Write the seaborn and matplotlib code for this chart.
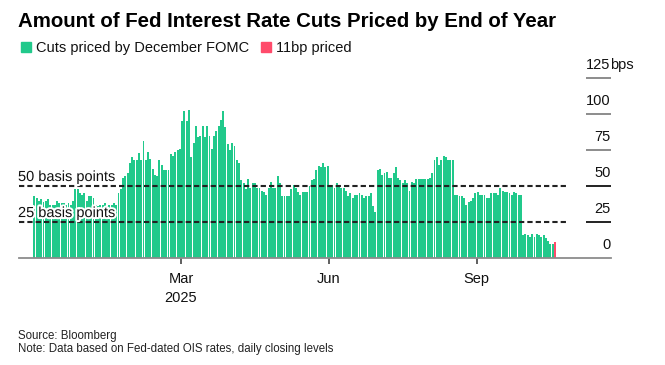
import numpy as np
import pandas as pd
import matplotlib
matplotlib.use("Agg")
import matplotlib.pyplot as plt
import matplotlib.patheffects as pe
from matplotlib.patches import Rectangle
from matplotlib.transforms import blended_transform_factory
import seaborn as sns

# ---------------- data ----------------
title = "Amount of Fed Interest Rate Cuts Priced by End of Year"
series_names = ["Cuts priced by December FOMC", "11bp priced"]
series_colors = ["#21c98b", "#ff4b6b"]
start_date = "2024-12-02"

cuts_dec_feb = [43, 42, 40, 41, 39, 40, 41, 37, 37, 37,
                40, 38, 38, 38, 37, 38, 37, 40, 48, 48,
                45, 44, 45, 40, 43, 43, 42, 37, 36, 37,
                37, 38, 36, 37, 37, 38, 37, 45, 48, 56,
                57, 59, 66, 70, 68, 68, 73, 68, 81, 68,
                74, 69, 62, 58, 57, 68, 65, 61, 61, 61,
                72, 71, 74, 75, 76]
cuts_mar_may = [95, 102, 95, 103, 70, 80, 92, 84, 85, 92,
                84, 92, 85, 76, 85, 88, 92, 96, 102, 91,
                79, 75, 80, 78, 68, 66, 54, 52, 48, 55,
                49, 52, 52, 49, 49, 47, 46, 44, 49, 53,
                49, 49, 57, 52, 43, 43, 43, 43, 48, 51,
                49, 46, 44, 46, 46, 46, 50, 54, 55, 61,
                64, 63, 66, 63, 64]
cuts_jun_aug = [51, 51, 49, 52, 51, 49, 49, 47, 43, 45,
                42, 44, 44, 45, 44, 42, 43, 43, 45, 36,
                32, 61, 62, 58, 59, 60, 56, 56, 59, 63,
                56, 54, 52, 54, 52, 47, 53, 52, 55, 55,
                55, 55, 55, 55, 56, 59, 68, 70, 65, 68,
                71, 70, 68, 68, 68, 44, 44, 43, 43, 42,
                37, 39, 40, 42, 45]
cuts_sep_oct = [46, 44, 44, 44, 42, 42, 45, 45, 45, 44,
                49, 47, 46, 46, 45, 44, 46, 45, 44, 44,
                16, 17, 16, 15, 17, 15, 17, 16, 15, 16,
                14, 12, 10, 10, 11]

y_ticks = [0, 25, 50, 75, 100, 125]
ref_levels = [50, 25]
ref_labels = ["50 basis points", "25 basis points"]
month_dates = ["2025-03-01", "2025-06-01", "2025-09-01"]
month_labels = ["Mar", "Jun", "Sep"]
year_label = "2025"
source_text = "Source: Bloomberg"
note_text = "Note: Data based on Fed-dated OIS rates, daily closing levels"

values = cuts_dec_feb + cuts_mar_may + cuts_jun_aug + cuts_sep_oct
dates = pd.bdate_range(start_date, periods=len(values))
series = [series_names[0]] * (len(values) - 1) + [series_names[1]]
df = pd.DataFrame({"pos": np.arange(len(values)), "date": dates,
                   "bp": values, "series": series})

# ---------------- figure ----------------
sns.set_theme(style="white")
plt.rcParams["font.family"] = ["Liberation Sans", "DejaVu Sans"]
plt.rcParams["lines.scale_dashes"] = False

W, H = 665, 365
fig = plt.figure(figsize=(W / 100, H / 100), dpi=100)
fig.patch.set_facecolor("white")


def fx(px):
    return px / W


def fy(py):
    return 1 - py / H


ax_l, ax_r, ax_t, ax_b = 19, 611, 78, 258.3
ax = fig.add_axes([fx(ax_l), fy(ax_b), (ax_r - ax_l) / W, (ax_b - ax_t) / H])
ax.set_facecolor("white")

sns.barplot(data=df, x="pos", y="bp", hue="series",
            palette=dict(zip(series_names, series_colors)),
            dodge=False, width=0.84, saturation=1, legend=False,
            native_scale=True, ax=ax, zorder=2, linewidth=0,
            edgecolor="none")

pitch = 2.273
first_left = 33.3
ax.set_xlim((ax_l - first_left) / pitch - 0.5, (ax_r - first_left) / pitch - 0.5)
ax.set_ylim(0, 125)
ax.set_xlabel("")
ax.set_ylabel("")
ax.set_yticks([])

for s in ["top", "left", "right"]:
    ax.spines[s].set_visible(False)
ax.spines["bottom"].set_color("#8c8c8c")
ax.spines["bottom"].set_linewidth(1.3)
ax.spines["bottom"].set_zorder(4)

tick_pos = [np.searchsorted(dates.values, np.datetime64(d)) - 0.5 for d in month_dates]
ax.set_xticks(tick_pos)
ax.tick_params(axis="x", length=4, width=1.2, color="#444444", labelbottom=False,
               direction="out", bottom=True)

trans_xf = blended_transform_factory(ax.transData, fig.transFigure)
for p, lab in zip(tick_pos, month_labels):
    ax.text(p, fy(283.3), lab, transform=trans_xf, ha="center", va="baseline",
            fontsize=10.5, color="#111111")
ax.text(tick_pos[0], fy(301.7), year_label, transform=trans_xf, ha="center",
        va="baseline", fontsize=10.5, color="#111111")

# reference dashed lines and labels
span_end = (568 - ax_l) / (ax_r - ax_l)
trans_ad = blended_transform_factory(ax.transAxes, ax.transData)
for lvl, lab in zip(ref_levels, ref_labels):
    ax.axhline(lvl, xmin=0, xmax=span_end, color="#222222", lw=1.5,
               dashes=(3.8, 2.2), zorder=3)
    ax.text(-0.0017, lvl + 3.6, lab, transform=trans_ad, ha="left", va="baseline",
            fontsize=10.5, color="#111111", zorder=5, clip_on=False,
            path_effects=[pe.withStroke(linewidth=3, foreground="white")])

# right-side value axis
tick_x0 = (586 - ax_l) / (ax_r - ax_l)
for v in y_ticks:
    ax.text(0.9995, v + 6.2, str(v), transform=trans_ad, ha="right", va="baseline",
            fontsize=10.5, color="#111111", clip_on=False)
    if v > 0:
        c = "#222222" if v in ref_levels else "#8c8c8c"
        ax.plot([tick_x0, 1.0], [v, v], transform=trans_ad, color=c, lw=1.4,
                clip_on=False, solid_capstyle="butt")
ax.text(0.9985, y_ticks[-1] + 6.2, "bps", transform=trans_ad, ha="left",
        va="baseline", fontsize=10.5, color="#111111", clip_on=False)

# title and legend
fig.text(fx(18), fy(27), title, ha="left", va="baseline", fontsize=14.7,
         fontweight="bold", color="#000000")
fig.patches.append(Rectangle((fx(20.5), fy(52)), 10 / W, 10 / H,
                             transform=fig.transFigure, color=series_colors[0]))
fig.text(fx(36), fy(51.7), series_names[0], ha="left", va="baseline",
         fontsize=10.5, color="#111111")
fig.patches.append(Rectangle((fx(261), fy(52)), 10 / W, 10 / H,
                             transform=fig.transFigure, color=series_colors[1]))
fig.text(fx(276), fy(51.7), series_names[1], ha="left", va="baseline",
         fontsize=10.5, color="#111111")

# footer
fig.text(fx(18), fy(339), source_text, ha="left", va="baseline", fontsize=8.3,
         color="#222222")
fig.text(fx(18), fy(352.3), note_text, ha="left", va="baseline", fontsize=8.3,
         color="#222222")

fig.savefig("out.png", dpi=100, facecolor="white")
